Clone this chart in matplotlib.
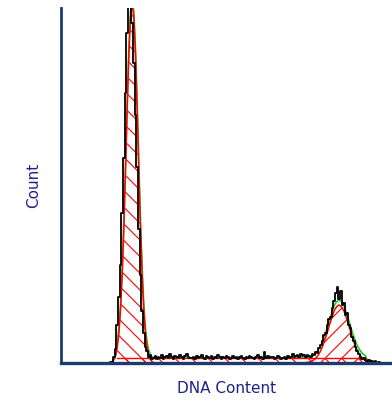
import numpy as np
import matplotlib
matplotlib.use("Agg")
import matplotlib.pyplot as plt

# measured histogram, channels 28..199
hist_ch = np.arange(28, 200)
hist_counts = [0, 0, 1, 1,
	6, 14, 38, 66, 98, 150, 205, 270, 330, 362, 358, 340, 300, 248, 196, 134, 88, 52, 30, 16, 12, 6, 8, 4,
	5, 7, 4, 6, 5, 8, 4, 6, 7, 5,
	9, 6, 4, 7, 6, 5, 8, 6, 4, 7,
	9, 6, 5, 5, 6, 4, 7, 5, 6, 8,
	5, 4, 7, 6, 5, 7, 4, 6, 5, 8,
	6, 4, 6, 5, 7, 6, 4, 5, 7, 5,
	6, 4, 6, 7, 5, 4, 6, 5, 7, 6,
	5, 4, 6, 8, 5, 6, 4, 11, 5, 7,
	5, 6, 6, 4, 5, 7, 6, 4, 5, 6,
	4, 7, 5, 6, 9, 6, 7, 8, 6, 9,
	7, 8, 6, 8,
	7, 6, 9, 8, 11, 10, 15, 18, 22, 28,
	30, 38, 44, 46, 55, 62, 70, 76, 64, 72,
	58, 60, 48, 50, 38, 35, 26, 22, 16, 12,
	9, 6, 4, 5, 3, 2, 3, 1, 2, 1,
	2, 0, 1, 0, 0, 0, 0, 0, 0, 0]

# G0/G1 fitted peak
g1_ch = np.arange(30, 57)
g1_fit = [0.5, 1.4, 3.4, 7.6, 16, 30, 54, 90, 137, 194, 255, 309, 346, 360,
	346, 309, 255, 194, 137, 90, 54, 30, 16, 7.6, 3.4, 1.4, 0.5]

# G2/M fitted peak
g2_ch = np.arange(148, 189)
g2_fit = [0.4, 0.6, 1.0, 1.5, 2.3, 3.4, 4.9, 6.9, 9.5, 12.6, 16.5, 21, 26, 31, 37, 42, 47, 52, 55, 57, 58,
	57, 55, 52, 47, 42, 37, 31, 26, 21, 16.5, 12.6, 9.5, 6.9, 4.9, 3.4, 2.3, 1.5, 1.0, 0.6, 0.4]

# S phase block
s_ch = [34, 184]
s_level = [5, 5]

navy = "#1c3c6e"
label_col = "#20208a"
plt.rcParams['hatch.linewidth'] = 0.8

fig = plt.figure(figsize=(3.92, 4.01), dpi=100)
ax = fig.add_axes([61/392, 1-363/401, 1-61/392, 355/401])

#total fit = sum of components (drawn underneath)
grid = np.arange(30, 189)
s_on = np.where((grid >= s_ch[0]) & (grid <= s_ch[1]), s_level[0], 0)
total = np.interp(grid, g1_ch, g1_fit, left=0, right=0) + np.interp(grid, g2_ch, g2_fit, left=0, right=0) + s_on
ax.plot(grid, total, color='#22cc22', lw=1.2)

#S phase
ax.fill_between(s_ch, 0, s_level, facecolor='none', edgecolor='red', hatch='\\\\', linewidth=0)
ax.plot(s_ch, s_level, color='red', lw=1)

#G1 and G2 peaks
ax.fill_between(g1_ch, 0, g1_fit, facecolor='none', edgecolor='red', hatch='\\\\', linewidth=0)
ax.plot(g1_ch, g1_fit, color='red', lw=1.1)
ax.fill_between(g2_ch, 0, g2_fit, facecolor='none', edgecolor='red', hatch='//', linewidth=0)
ax.plot(g2_ch, g2_fit, color='red', lw=1.1)

#data histogram
ax.plot(hist_ch, hist_counts, color='black', lw=1.3, drawstyle='steps-mid')

ax.set_xlim(0, 200)
ax.set_ylim(0, 355)
ax.set_xticks([])
ax.set_yticks([])
ax.spines['top'].set_visible(False)
ax.spines['right'].set_visible(False)
ax.spines['left'].set_color(navy)
ax.spines['left'].set_linewidth(2.0)
ax.spines['bottom'].set_color(navy)
ax.spines['bottom'].set_linewidth(2.4)
ax.set_xlabel("DNA Content", fontsize=11, color=label_col, labelpad=13)
ax.set_ylabel("Count", fontsize=11, color=label_col, labelpad=14)

fig.savefig('out.png', dpi=100)
